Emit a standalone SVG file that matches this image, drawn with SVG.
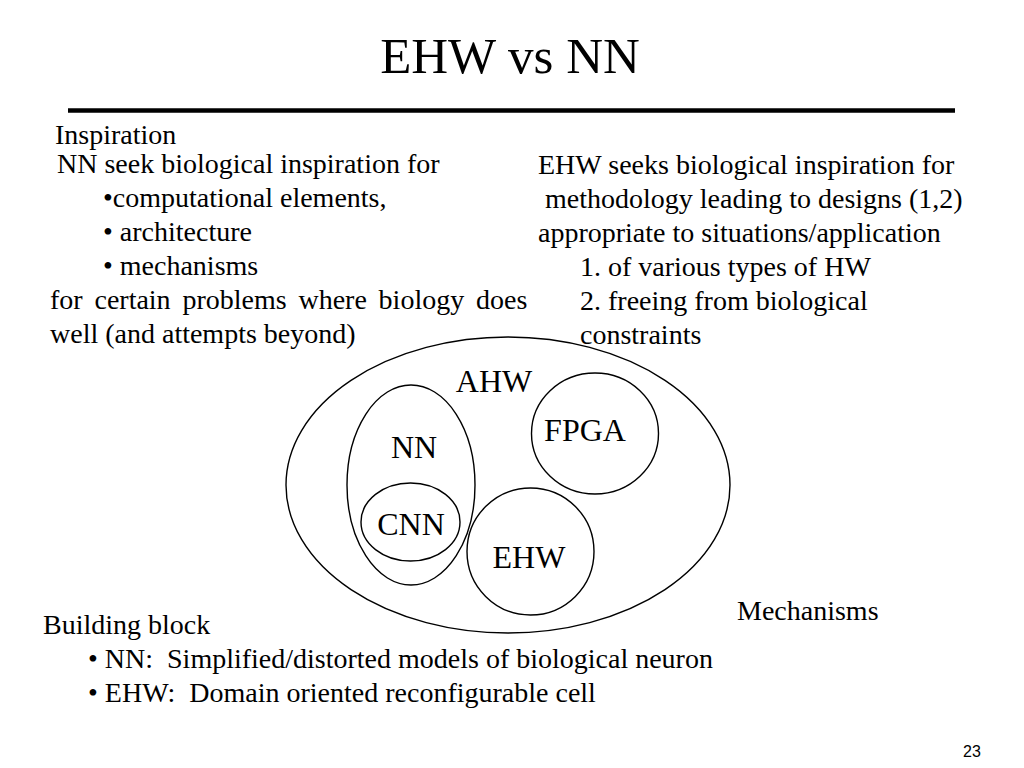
<svg xmlns="http://www.w3.org/2000/svg" width="1024" height="768" viewBox="0 0 1024 768">
<style>
text{font-family:"Liberation Serif","Times New Roman",serif;fill:#000}
.b{font-size:28px;white-space:pre}
.lbl{font-size:32px;text-anchor:middle}
.shape{fill:none;stroke:#000;stroke-width:1.4}
</style>
<rect width="1024" height="768" fill="#fff"/>
<text x="510" y="73" font-size="51" text-anchor="middle">EHW vs NN</text>
<line x1="68" y1="110.5" x2="955" y2="110.5" stroke="#000" stroke-width="4.5"/>
<g id="left-text" class="b">
<text class="b" x="55" y="144">Inspiration</text>
<text class="b" x="57" y="173">NN seek biological inspiration for</text>
<text class="b" x="103" y="207">•computational elements,</text>
<text class="b" x="103" y="241">• architecture</text>
<text class="b" x="103" y="275">• mechanisms</text>
<text class="b" x="50" y="309" word-spacing="4.8">for certain problems where biology does</text>
<text class="b" x="50" y="343">well (and attempts beyond)</text>
</g>
<g id="right-text">
<text class="b" x="538" y="174">EHW seeks biological inspiration for</text>
<text class="b" x="538" y="208"> methodology leading to designs (1,2)</text>
<text class="b" x="538" y="242">appropriate to situations/application</text>
<text class="b" x="580" y="276">1. of various types of HW</text>
<text class="b" x="580" y="310">2. freeing from biological</text>
<text class="b" x="580" y="344">constraints</text>
</g>
<g id="AHW">
<ellipse class="shape" cx="508" cy="485" rx="222" ry="148"/>
<text class="lbl" x="494" y="392">AHW</text>
</g>
<g id="NN">
<ellipse class="shape" cx="411" cy="485" rx="64" ry="100"/>
<text class="lbl" x="414" y="458">NN</text>
</g>
<g id="CNN">
<ellipse class="shape" cx="410.5" cy="522" rx="49.5" ry="39"/>
<text class="lbl" x="411" y="535">CNN</text>
</g>
<g id="FPGA">
<ellipse class="shape" cx="595" cy="433.5" rx="63.5" ry="60.5"/>
<text class="lbl" x="585" y="441">FPGA</text>
</g>
<g id="EHW">
<ellipse class="shape" cx="530.5" cy="551.5" rx="63.5" ry="63.5"/>
<text class="lbl" x="529" y="568">EHW</text>
</g>
<g id="connectors"></g>
<text class="b" x="737" y="620">Mechanisms</text>
<g id="bottom-text">
<text class="b" x="43" y="634">Building block</text>
<text class="b" x="88" y="668">• NN:  Simplified/distorted models of biological neuron</text>
<text class="b" x="88" y="702">• EHW:  Domain oriented reconfigurable cell</text>
</g>
<text x="963" y="757" font-size="16" style="font-family:'Liberation Sans',Arial,sans-serif">23</text>
</svg>
